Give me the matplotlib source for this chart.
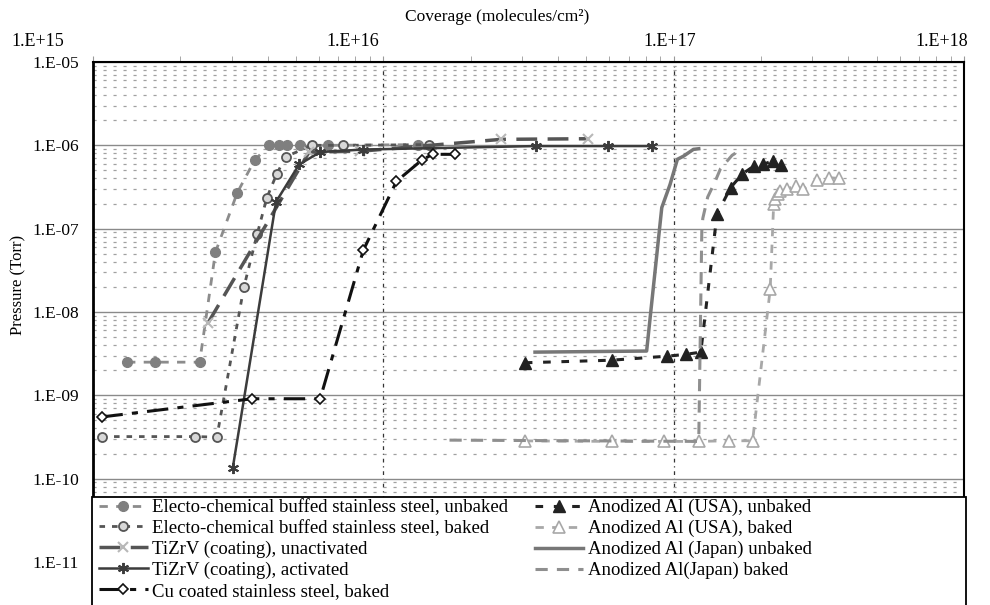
import matplotlib
matplotlib.use("Agg")
import matplotlib.pyplot as plt
from matplotlib.patches import Rectangle
from matplotlib.transforms import ScaledTranslation
from matplotlib.ticker import LogLocator, NullFormatter

plt.rcParams['font.family'] = ['Liberation Serif', 'DejaVu Serif']

# ---------------- data ----------------
ecb_unbaked_x = [1.31e15, 1.64e15, 2.33e15, 2.64e15, 3.14e15, 3.60e15, 4.04e15, 4.38e15, 4.67e15, 5.16e15, 6.47e15, 1.32e16]
ecb_unbaked_y = [2.5e-9, 2.5e-9, 2.5e-9, 5.2e-8, 2.7e-7, 6.6e-7, 1.0e-6, 1.0e-6, 1.0e-6, 1.0e-6, 1.0e-6, 1.02e-6]

ecb_baked_x = [1.07e15, 2.25e15, 2.67e15, 3.31e15, 3.68e15, 3.97e15, 4.29e15, 4.61e15, 5.67e15, 7.29e15, 1.44e16]
ecb_baked_y = [3.2e-10, 3.2e-10, 3.15e-10, 2.0e-8, 8.7e-8, 2.35e-7, 4.5e-7, 7.3e-7, 1.0e-6, 1.0e-6, 1.02e-6]

tizrv_unact_x = [2.49e15, 5.55e15, 8.34e15, 2.55e16, 5.08e16]
tizrv_unact_y = [7.4e-9, 8.3e-7, 8.5e-7, 1.18e-6, 1.2e-6]

tizrv_act_x = [3.03e15, 4.27e15, 5.13e15, 6.06e15, 8.5e15, 3.35e16, 5.93e16, 8.45e16]
tizrv_act_y = [1.35e-10, 2.1e-7, 5.9e-7, 8.3e-7, 8.9e-7, 9.8e-7, 9.8e-7, 9.8e-7]

cu_x = [1.07e15, 3.54e15, 6.06e15, 8.53e15, 1.11e16, 1.36e16, 1.48e16, 1.76e16]
cu_y = [5.5e-10, 9.1e-10, 9.1e-10, 5.5e-8, 3.7e-7, 6.7e-7, 7.8e-7, 7.8e-7]

usa_unbaked_x = [3.07e16, 6.11e16, 9.49e16, 1.10e17, 1.24e17, 1.41e17, 1.57e17, 1.72e17, 1.89e17, 2.03e17, 2.19e17, 2.34e17]
usa_unbaked_y = [2.46e-9, 2.64e-9, 2.95e-9, 3.1e-9, 3.3e-9, 1.49e-7, 3.1e-7, 4.5e-7, 5.65e-7, 5.9e-7, 6.5e-7, 5.75e-7]

usa_baked_x = [3.07e16, 6.11e16, 9.23e16, 1.22e17, 1.55e17, 1.87e17, 2.15e17, 2.21e17, 2.24e17, 2.29e17, 2.33e17,
               2.46e17, 2.63e17, 2.79e17, 3.12e17, 3.42e17, 3.72e17]
usa_baked_y = [2.84e-10, 2.8e-10, 2.8e-10, 2.8e-10, 2.85e-10, 2.85e-10, 1.87e-8, 1.96e-7, 2.25e-7, 2.6e-7, 2.8e-7,
               3.0e-7, 3.25e-7, 2.96e-7, 3.83e-7, 4.1e-7, 4.0e-7]

japan_unbaked_x = [3.33e16, 8.07e16, 9.1e16, 9.72e16, 1.03e17, 1.08e17, 1.17e17, 1.22e17]
japan_unbaked_y = [3.3e-9, 3.4e-9, 1.79e-7, 3.4e-7, 6.8e-7, 7.4e-7, 8.95e-7, 9.1e-7]

japan_baked_x = [1.69e16, 1.22e17, 1.25e17, 1.26e17, 1.31e17, 1.39e17, 1.45e17, 1.59e17, 1.70e17]
japan_baked_y = [2.9e-10, 2.8e-10, 9.35e-8, 1.33e-7, 2.4e-7, 3.7e-7, 5.25e-7, 7.6e-7, 8.8e-7]

labels = [
    "Electo-chemical buffed stainless steel, unbaked",
    "Electo-chemical buffed stainless steel, baked",
    "TiZrV (coating), unactivated",
    "TiZrV (coating), activated",
    "Cu coated stainless steel, baked",
    "Anodized Al (USA), unbaked",
    "Anodized Al (USA), baked",
    "Anodized Al (Japan) unbaked",
    "Anodized Al(Japan) baked",
]
x_tick_vals = [1e15, 1e16, 1e17, 1e18]
x_tick_labels = ["1.E+15", "1.E+16", "1.E+17", "1.E+18"]
y_tick_vals = [1e-11, 1e-10, 1e-9, 1e-8, 1e-7, 1e-6, 1e-5]
y_tick_labels = ["1.E-11", "1.E-10", "1.E-09", "1.E-08", "1.E-07", "1.E-06", "1.E-05"]

# ---------------- figure ----------------
W, H = 990, 605
fig = plt.figure(figsize=(W / 100, H / 100), dpi=100)
L, R, T, B = 93, 964, 62, 562
ax = fig.add_axes([L / W, 1 - B / H, (R - L) / W, (B - T) / H])
ax.set_xscale('log')
ax.set_yscale('log')
ax.set_xlim(1e15, 1e18)
ax.set_ylim(1e-11, 1e-5)

# grid
ax.yaxis.set_minor_locator(LogLocator(base=10, subs=range(2, 10), numticks=20))
ax.yaxis.set_minor_formatter(NullFormatter())
ax.grid(True, which='major', axis='y', color='#8a8a8a', lw=1.0, ls='-')
ax.grid(True, which='minor', axis='y', color='#a0a0a0', lw=0.9, ls=(0, (2.5, 5.5)))
ax.grid(True, which='major', axis='x', color='#333333', lw=0.9, ls=(0, (3, 3, 1, 3)))
ax.set_axisbelow(True)

# ticks
ax.xaxis.tick_top()
ax.xaxis.set_label_position('top')
ax.set_xticks(x_tick_vals)
ax.set_xticklabels(x_tick_labels, fontsize=13)
ax.xaxis.set_minor_locator(LogLocator(base=10, subs=range(2, 10), numticks=20))
ax.xaxis.set_minor_formatter(NullFormatter())
ax.tick_params(axis='x', which='both', direction='out', length=4, color='#999999', pad=5)
ax.set_yticks(y_tick_vals)
ax.set_yticklabels(y_tick_labels, fontsize=12.5)
ax.tick_params(axis='y', which='both', length=0, pad=10)

offsets = [-55, -31, -4, -22]
for tick, dx in zip(ax.xaxis.get_major_ticks(), offsets):
    lab = tick.label2
    lab.set_transform(lab.get_transform() + ScaledTranslation(dx / 100, 0, fig.dpi_scale_trans))

fig.text(497 / W, 1 - 17 / H, "Coverage (molecules/cm²)", fontsize=12.5, ha='center', va='center')
ax.set_ylabel("Pressure (Torr)", fontsize=12)
ax.yaxis.set_label_coords(-0.077, 0.554)

ax.spines['left'].set_linewidth(2.0)
for s in ['top', 'right']:
    ax.spines[s].set_linewidth(1.5)
ax.spines['bottom'].set_visible(False)

# ---------------- series ----------------
h = []
h += ax.plot(ecb_unbaked_x, ecb_unbaked_y, color='#8c8c8c', lw=2, ls=(0, (3, 3)),
             marker='o', ms=7, mfc='#7f7f7f', mec='#7f7f7f', label=labels[0])
h += ax.plot(ecb_baked_x, ecb_baked_y, color='#555555', lw=2, ls=(0, (2, 2.5)),
             marker='o', ms=6.5, mfc='#d8d8d8', mec='#555555', mew=1.3, label=labels[1])
h += ax.plot(tizrv_unact_x, tizrv_unact_y, color='#555555', lw=2.5, ls=(0, (6, 3)),
             marker='x', ms=7, mec='#b8b8b8', mew=1.5, label=labels[2])
h += ax.plot(tizrv_act_x, tizrv_act_y, color='#3c3c3c', lw=1.8, ls='-',
             marker=(6, 2, 0), ms=8, mec='#3c3c3c', mew=1.4, label=labels[3])
h += ax.plot(cu_x, cu_y, color='#111111', lw=2.2, ls=(0, (7, 3, 2, 3)),
             marker='D', ms=5, mfc='white', mec='#111111', mew=1.2, label=labels[4])
h += ax.plot(usa_unbaked_x, usa_unbaked_y, color='#222222', lw=2.2, ls=(0, (2.5, 3.5)),
             marker='^', ms=8, mfc='#222222', mec='#222222', label=labels[5])
h += ax.plot(usa_baked_x, usa_baked_y, color='#a8a8a8', lw=2, ls=(0, (3, 3)),
             marker='^', ms=8, mfc='white', mec='#a8a8a8', mew=1.2, label=labels[6])
h += ax.plot(japan_unbaked_x, japan_unbaked_y, color='#777777', lw=2.5, ls='-', label=labels[7])
h += ax.plot(japan_baked_x, japan_baked_y, color='#8f8f8f', lw=2.2, ls=(0, (4, 3)), label=labels[8])

# ---------------- legend box ----------------
box = Rectangle((92 / W, -0.05), (966 - 92) / W, 1 - 497 / H + 0.05, transform=fig.transFigure,
                facecolor='white', edgecolor='black', lw=1.3, zorder=3)
fig.patches.append(box)
leg = fig.legend(handles=h, loc='upper left', bbox_to_anchor=(96 / W, 1 - 496 / H), ncol=2,
                 frameon=False, fontsize=13.5, handlelength=2.6, handletextpad=0.25,
                 labelspacing=0.2, columnspacing=1.4, borderaxespad=0, borderpad=0.15)
leg.set_zorder(5)

fig.savefig("out.png", dpi=100)
